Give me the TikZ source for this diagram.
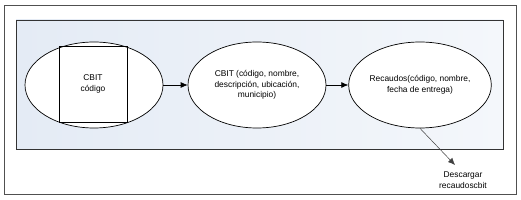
\documentclass[tikz,border=0pt]{standalone}
\usepackage{fontspec}
\setmainfont{Liberation Sans}
\usetikzlibrary{shapes.geometric,arrows.meta}
\definecolor{panelfill}{RGB}{228,235,245}
\definecolor{panelfillB}{RGB}{244,247,251}
\definecolor{framegray}{RGB}{80,80,80}
\tikzset{
  lbl/.style={font=\fontsize{8.4}{10.5}\selectfont, align=center, text=black},
  oval/.style={draw=black, line width=0.7pt, fill=white, ellipse, minimum width=138pt, minimum height=86pt, inner sep=0pt},
  box/.style={draw=black, line width=0.7pt, rectangle, minimum width=68pt, minimum height=76pt, inner sep=0pt},
  flow/.style={draw=black, line width=0.7pt, -{Latex[length=7pt,width=6pt]}},
  thinflow/.style={draw=black!75, line width=0.5pt, -{Latex[length=7pt,width=6pt]}}
}
\begin{document}
\begin{tikzpicture}[x=1pt,y=-1pt]
\useasboundingbox (0,0) rectangle (521,200);
\fill[white] (0,0) rectangle (521,200);
\draw[framegray, line width=0.8pt] (4,5) rectangle (516,194);
\shade[left color=panelfill, right color=panelfillB] (16,20) rectangle (503,149);
\draw[black!80, line width=0.8pt] (16,20) rectangle (503,149);
\node[oval] (e1) at (94,85) {};
\node[box, lbl] (sq) at (93,84) {CBIT\\código};
\node[oval, lbl] (e2) at (257,85) {CBIT (código, nombre,\\descripción, ubicación,\\municipio)};
\node[oval, lbl] (e3) at (420,85) {Recaudos(código, nombre,\\fecha de entrega)};
\node[lbl] (dl) at (463,180) {Descargar\\recaudoscbit};
\coordinate (tip) at (455,165);
\draw[flow] (e1.east) -- (e2.west);
\draw[flow] (e2.east) -- (e3.west);
\draw[thinflow] (e3.south) -- (tip);
\end{tikzpicture}
\end{document}
